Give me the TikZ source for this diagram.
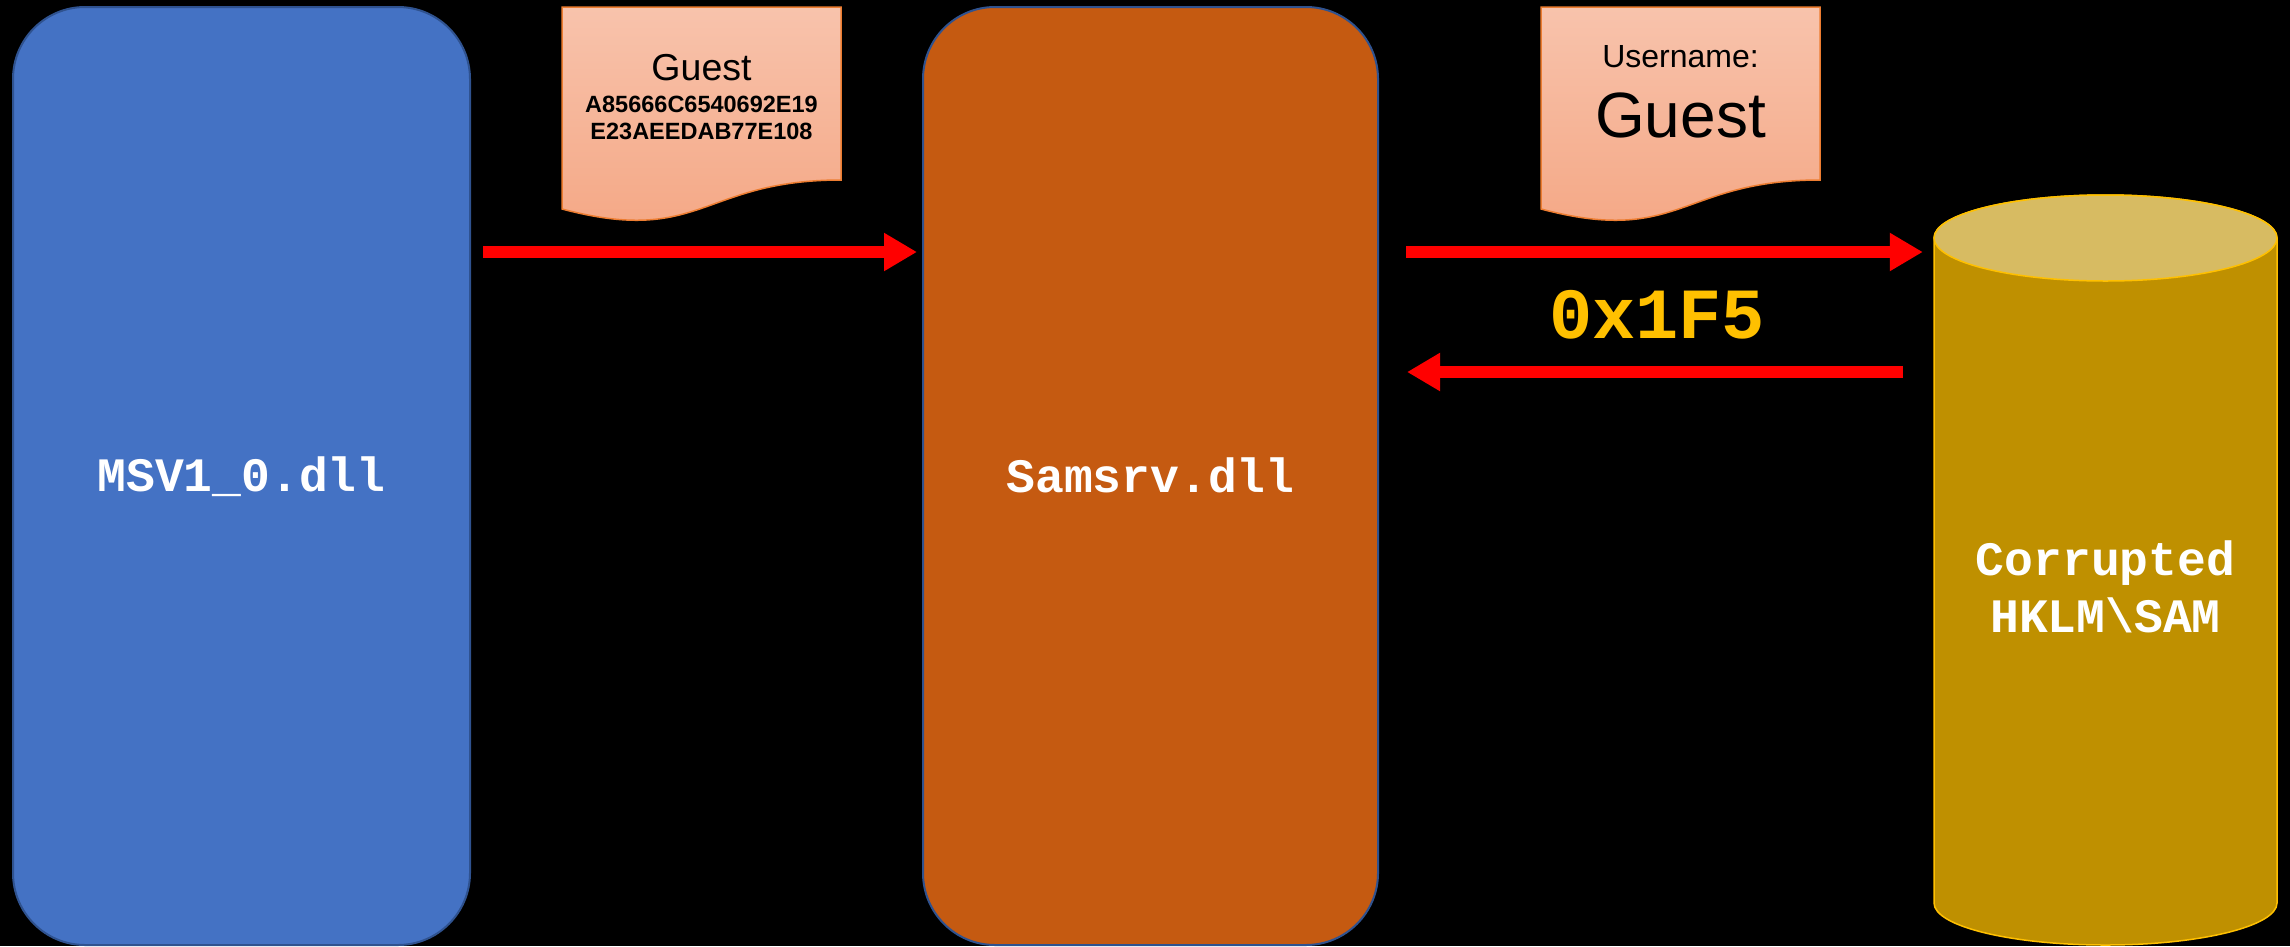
\documentclass[tikz,border=0pt]{standalone}
\usepackage{fontspec}
\setmainfont{Liberation Sans}
\newfontfamily\monofam{Liberation Mono}
\usetikzlibrary{arrows.meta}
\definecolor{msvblue}{HTML}{4472C4}
\definecolor{boxedge}{HTML}{2F528F}
\definecolor{samorange}{HTML}{C55A11}
\definecolor{doctop}{HTML}{F8C3AC}
\definecolor{docbot}{HTML}{F4A683}
\definecolor{docedge}{HTML}{ED7D31}
\definecolor{cylbody}{HTML}{BF9000}
\definecolor{cyltop}{HTML}{D7BB62}
\definecolor{cyledge}{HTML}{FFC000}
\definecolor{codegold}{HTML}{FFC000}
\begin{document}
\begin{tikzpicture}[x=1pt,y=-1pt,
  dllbox/.style={draw=boxedge, line width=2pt, rounded corners=72pt, inner sep=0pt},
  monotext/.style={text=white, font=\fontsize{48}{52}\selectfont\monofam\bfseries, anchor=base},
  arr/.style={draw=red, line width=12pt, -{Triangle[length=33pt,width=36pt]}},
  docshape/.style={draw=docedge, line width=1.5pt, top color=doctop, bottom color=docbot},
  doctext/.style={anchor=base, text=black},
  cylpart/.style={draw=cyledge, line width=1.5pt},
]
\fill[black] (0,0) rectangle (2290,946);
\useasboundingbox (0,0) rectangle (2290,946);

% DLL boxes
\node[dllbox, fill=msvblue, minimum width=457pt, minimum height=938pt] (msv) at (241.5,476) {};
\node[monotext] (msvt) at (241.5,491) {MSV1\_0.dll};
\node[dllbox, fill=samorange, minimum width=455pt, minimum height=938pt] (sam) at (1150.5,476) {};
\node[monotext] (samt) at (1150.5,492) {Samsrv.dll};

% cylinder
\node[minimum width=343pt, minimum height=750pt, inner sep=0pt] (cyl) at (2105.5,570) {};
\path[cylpart, fill=cylbody] (1934,238) -- (1934,903)
  arc[start angle=180, end angle=0, x radius=171.5, y radius=42]
  -- (2277,238) arc[start angle=0, end angle=-180, x radius=171.5, y radius=43] -- cycle;
\path[cylpart, fill=cyltop] (2105.5,238) ellipse[x radius=171.5, y radius=43];
\node[monotext] (cylt1) at (2105.5,575) {Corrupted};
\node[monotext] (cylt2) at (2105.5,632) {HKLM\textbackslash SAM};

% documents
\path[docshape] (562,7) -- (841,7) -- (841,180)
  .. controls (701.5,180) and (701.5,246) .. (562,209) -- cycle;
\node[doctext, font=\fontsize{37.5}{40}\selectfont] (d1a) at (701.5,80) {Guest};
\node[doctext, font=\fontsize{23.5}{27}\selectfont\bfseries] (d1b) at (701.5,112) {A85666C6540692E19};
\node[doctext, font=\fontsize{23.5}{27}\selectfont\bfseries] (d1c) at (701.5,139) {E23AEEDAB77E108};

\path[docshape] (1541,7) -- (1820,7) -- (1820,180)
  .. controls (1680.5,180) and (1680.5,246) .. (1541,209) -- cycle;
\node[doctext, font=\fontsize{32}{36}\selectfont] (d2a) at (1680.5,67) {Username:};
\node[doctext, font=\fontsize{64}{70}\selectfont] (d2b) at (1680.5,137) {Guest};

% arrows
\coordinate (ya) at (0,252);
\coordinate (yb) at (0,372);
\draw[arr, shorten <=12pt, shorten >=5pt] (msv.east |- ya) -- (sam.west |- ya);
\draw[arr, shorten <=27pt, shorten >=11pt] (sam.east |- ya) -- (cyl.west |- ya);
\draw[arr, shorten <=31pt, shorten >=28pt] (cyl.west |- yb) -- (sam.east |- yb);

\node[anchor=base, text=codegold, font=\fontsize{72}{78}\selectfont\monofam\bfseries] (code) at (1657,338) {0x1F5};
\end{tikzpicture}
\end{document}
